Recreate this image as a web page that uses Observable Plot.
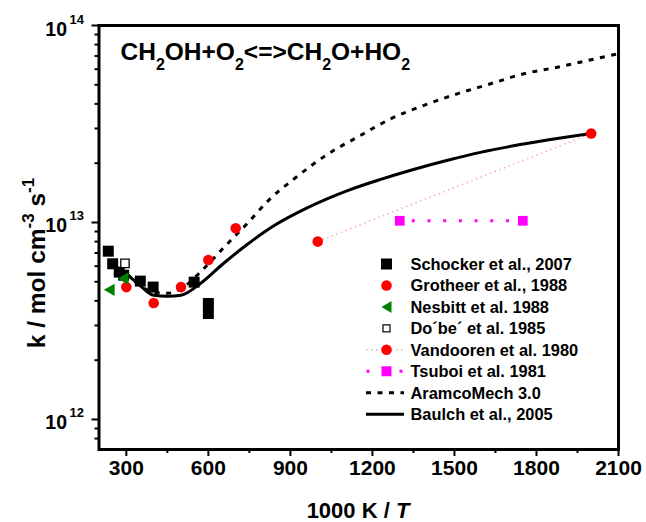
<!DOCTYPE html>
<html><head><meta charset="utf-8">
<script src="https://cdn.jsdelivr.net/npm/d3@7"></script>
<script src="https://cdn.jsdelivr.net/npm/@observablehq/plot@0.6"></script>
<style>
body{margin:0;background:#fff;}
#chart{position:relative;width:646px;height:522px;}
</style></head><body><div id="chart"></div>
<script>
// ---- data (1000 K / T , k in cm3 mol-1 s-1) ----
const schockerX = [234, 250, 274, 290, 351, 398, 548, 600, 600];
const schockerK = [7.15e12, 6.17e12, 5.6e12, 5.4e12, 5.04e12, 4.7e12, 4.98e12, 3.88e12, 3.45e12];
const grotheerX = [300, 400, 500, 600, 700];
const grotheerK = [4.7e12, 3.9e12, 4.7e12, 6.45e12, 9.35e12];
const nesbittX = [244, 295];
const nesbittK = [4.55e12, 5.2e12];
const dobeX = [295];
const dobeK = [6.2e12];
const vandoorenX = [1000, 2000];
const vandoorenK = [8.0e12, 2.83e13];
const tsuboiX = [1300, 1750];
const tsuboiK = [1.02e13, 1.02e13];
const aramcoX = [300, 350, 400, 450, 500, 579, 658, 743, 822, 914, 1048, 1145, 1267, 1388, 1510, 1632, 1754, 1876, 1999, 2100];
const aramcoK = [5.5e12, 4.79e12, 4.42e12, 4.37e12, 4.62e12, 5.75e12, 7.5e12, 9.91e12, 1.303e13, 1.667e13, 2.275e13, 2.71e13, 3.36e13, 3.93e13, 4.5e13, 5.06e13, 5.69e13, 6.14e13, 6.7e13, 7.19e13];
const baulchX = [300, 350, 400, 450, 500, 571, 655, 743, 838, 963, 1109, 1230, 1350, 1475, 1595, 1716, 1840, 2000];
const baulchK = [5.5e12, 4.79e12, 4.27e12, 4.22e12, 4.27e12, 4.9e12, 6.19e12, 7.75e12, 9.59e12, 1.189e13, 1.452e13, 1.655e13, 1.858e13, 2.07e13, 2.27e13, 2.45e13, 2.62e13, 2.83e13];

const xTicks = [300, 600, 900, 1200, 1500, 1800, 2100];
const xMinor = [450, 750, 1050, 1350, 1650, 1950];
const yTicks = [1e12, 1e13, 1e14];
const yExp = ["12", "13", "14"];
const yMinor = [8e11, 9e11, 2e12, 3e12, 4e12, 5e12, 6e12, 7e12, 8e12, 9e12, 2e13, 3e13, 4e13, 5e13, 6e13, 7e13, 8e13, 9e13];

const legendLabels = ["Schocker et al., 2007", "Grotheer et al., 1988", "Nesbitt et al. 1988", "Do\u00B4be\u00B4 et al. 1985", "Vandooren et al. 1980", "Tsuboi et al. 1981", "AramcoMech 3.0", "Baulch et al., 2005"];

const zip = (xs, ks) => xs.map((x, i) => ({x, k: ks[i]}));
const FONT = "'Liberation Sans', Arial, Helvetica, sans-serif";
const RED = "#ff0000", GREEN = "#008000", MAG = "#ff00ff", PINK = "#ffa8a8";

const svg = Plot.plot({
  width: 646, height: 522,
  marginLeft: 98.5, marginRight: 28, marginTop: 25, marginBottom: 73,
  x: {domain: [200, 2100], axis: null},
  y: {type: "log", domain: [7.04e11, 1e14], axis: null},
  style: {fontFamily: FONT, color: "black", background: "white"},
  marks: [
    Plot.axisX({ticks: xMinor, tickSize: 4, strokeWidth: 2, tickFormat: () => "", label: null}),
    Plot.axisX({ticks: xTicks, tickSize: 7, strokeWidth: 2, tickFormat: () => "", label: null}),
    Plot.text(xTicks, {x: d => d, frameAnchor: "bottom", dy: 11, lineAnchor: "top", text: d => String(d), fontSize: 21, fontWeight: "bold"}),
    Plot.axisY({ticks: yMinor, tickSize: 4, strokeWidth: 2, tickFormat: () => "", label: null}),
    Plot.axisY({ticks: yTicks, tickSize: 7, strokeWidth: 2, tickFormat: () => "", label: null}),
    Plot.text(yTicks, {y: d => d, frameAnchor: "left", dx: -32, dy: 10, textAnchor: "end", lineAnchor: "bottom", text: () => "10", fontSize: 19.5, fontWeight: "bold"}),
    Plot.text(yTicks, {y: d => d, frameAnchor: "left", dx: -29.5, dy: -2, textAnchor: "start", lineAnchor: "bottom", text: (d, i) => yExp[i], fontSize: 13, fontWeight: "bold"}),
    Plot.line(zip(vandoorenX, vandoorenK), {x: "x", y: "k", stroke: PINK, strokeWidth: 1.5, strokeDasharray: "1.5,3.5", strokeLinecap: "butt"}),
    Plot.line(zip(tsuboiX, tsuboiK), {x: "x", y: "k", stroke: MAG, strokeWidth: 3, strokeDasharray: "3,12.7", strokeDashoffset: -12, strokeLinecap: "butt"}),
    Plot.line(zip(aramcoX, aramcoK), {x: "x", y: "k", stroke: "black", strokeWidth: 3, strokeDasharray: "5,6.5", strokeLinecap: "butt", curve: "monotone-x"}),
    Plot.line(zip(baulchX, baulchK), {x: "x", y: "k", stroke: "black", strokeWidth: 3, curve: "monotone-x"}),
    Plot.dot(zip(schockerX, schockerK), {x: "x", y: "k", symbol: "square", r: 6.2, fill: "black"}),
    Plot.dot(zip(grotheerX, grotheerK), {x: "x", y: "k", symbol: "circle", r: 5.3, fill: RED}),
    Plot.dot(zip(nesbittX, nesbittK), {x: "x", y: "k", symbol: "triangle", r: 4.6, fill: GREEN, rotate: -90}),
    Plot.dot(zip(dobeX, dobeK), {x: "x", y: "k", symbol: "square", r: 4.7, fill: "white", stroke: "black", strokeWidth: 1.3}),
    Plot.dot(zip(vandoorenX, vandoorenK), {x: "x", y: "k", symbol: "circle", r: 5.3, fill: RED}),
    Plot.dot(zip(tsuboiX, tsuboiK), {x: "x", y: "k", symbol: "square", r: 5.5, fill: MAG}),
    Plot.frame({stroke: "black", strokeWidth: 3})
  ]
});
document.getElementById("chart").appendChild(svg);

const s = d3.select(svg);
// title with subscripts
const title = s.append("text").attr("x", 120.5).attr("y", 59.5).attr("text-anchor", "start")
  .attr("font-family", FONT).attr("font-weight", "bold").attr("font-size", 24.5).attr("fill", "black");
const parts = [["CH", 0], ["2", 1], ["OH+O", 0], ["2", 1], ["<=>CH", 0], ["2", 1], ["O+HO", 0], ["2", 1]];
let prevSub = false;
for (const [t, sub] of parts) {
  const ts = title.append("tspan").text(t);
  if (sub) { ts.attr("font-size", 16).attr("dy", 10.5); prevSub = true; }
  else if (prevSub) { ts.attr("dy", -10.5); prevSub = false; }
}
// x axis label
const xl = s.append("text").attr("x", 358).attr("y", 518).attr("text-anchor", "middle")
  .attr("font-family", FONT).attr("font-weight", "bold").attr("font-size", 22).attr("fill", "black");
xl.append("tspan").text("1000 K / ");
xl.append("tspan").attr("font-style", "italic").text("T");
// y axis label
const yl = s.append("text").attr("transform", "translate(45,263) rotate(-90)").attr("text-anchor", "middle")
  .attr("font-family", FONT).attr("font-weight", "bold").attr("font-size", 24.5).attr("fill", "black");
yl.append("tspan").text("k / mol cm");
yl.append("tspan").attr("font-size", 17).attr("dy", -11).text("-3");
yl.append("tspan").attr("dy", 11).text(" s");
yl.append("tspan").attr("font-size", 17).attr("dy", -11).text("-1");

// legend
const lg = s.append("g");
const rowY = i => 264 + 21.45 * i;
const sx = 386.5;
legendLabels.forEach((lab, i) => {
  lg.append("text").attr("x", 410.5).attr("y", rowY(i) + 6).attr("text-anchor", "start").text(lab)
    .attr("font-family", FONT).attr("font-weight", "bold").attr("font-size", 16.4).attr("fill", "black");
});
lg.append("rect").attr("x", sx - 5.5).attr("y", rowY(0) - 5.5).attr("width", 11).attr("height", 11).attr("fill", "black");
lg.append("circle").attr("cx", sx).attr("cy", rowY(1)).attr("r", 5.3).attr("fill", RED);
lg.append("path").attr("d", `M${sx - 5},${rowY(2)}L${sx + 5},${rowY(2) - 6}L${sx + 5},${rowY(2) + 6}Z`).attr("fill", GREEN);
lg.append("rect").attr("x", sx - 3.5).attr("y", rowY(3) - 3.5).attr("width", 7).attr("height", 7).attr("fill", "white").attr("stroke", "black").attr("stroke-width", 1.2);
lg.append("line").attr("x1", 366).attr("x2", 404).attr("y1", rowY(4)).attr("y2", rowY(4)).attr("stroke", PINK).attr("stroke-width", 1.5).attr("stroke-dasharray", "1.5,3.5");
lg.append("circle").attr("cx", sx).attr("cy", rowY(4)).attr("r", 5.3).attr("fill", RED);
lg.append("rect").attr("x", 366.5).attr("y", rowY(5) - 1.5).attr("width", 3).attr("height", 3).attr("fill", MAG);
lg.append("rect").attr("x", 399.5).attr("y", rowY(5) - 1.5).attr("width", 3).attr("height", 3).attr("fill", MAG);
lg.append("rect").attr("x", sx - 5).attr("y", rowY(5) - 5).attr("width", 10).attr("height", 10).attr("fill", MAG);
lg.append("line").attr("x1", 366).attr("x2", 404).attr("y1", rowY(6)).attr("y2", rowY(6)).attr("stroke", "black").attr("stroke-width", 3).attr("stroke-dasharray", "5,6.5");
lg.append("line").attr("x1", 366).attr("x2", 404).attr("y1", rowY(7)).attr("y2", rowY(7)).attr("stroke", "black").attr("stroke-width", 3);
</script>
</body></html>
